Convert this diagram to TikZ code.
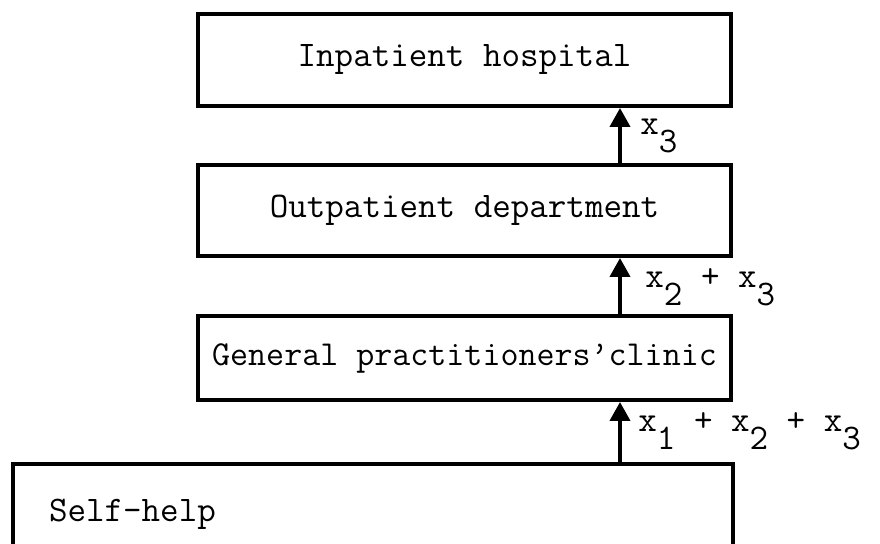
\documentclass[tikz,border=0pt]{standalone}
\usepackage{fontspec}
\usetikzlibrary{arrows.meta}
% digits set below the line, as in the flow labels
\newcommand{\lowsub}[1]{\raisebox{-9pt}{#1}}
\begin{document}
\begin{tikzpicture}[x=0.5pt,y=-0.5pt,
  level/.style={draw, line width=2pt, rectangle, inner sep=0pt,
    font=\fontsize{18}{20}\selectfont\ttfamily},
  flow/.style={line width=2pt, -{Triangle[width=10pt,length=9.5pt]}},
  lab/.style={anchor=base west, inner sep=0pt,
    font=\fontsize{18}{20}\selectfont\ttfamily}]
\clip (0,0) rectangle (880,544);

% levels of care, from the top down
\node[level, minimum width=266.5pt, minimum height=46pt] (inp) at (464.5,60) {Inpatient hospital};
\node[level, minimum width=266.5pt, minimum height=45.5pt] (outp) at (464.5,210.5) {Outpatient department};
\node[level, minimum width=266.5pt, minimum height=42pt,
  font=\fontsize{17.5}{20}\selectfont\ttfamily] (gp) at (464.5,358) {General practitioners’clinic};
\node[level, anchor=north west, minimum width=360pt, text width=324pt, align=left,
  inner xsep=18pt, inner ysep=0pt, text height=29pt, text depth=45pt] (self) at (11,462) {Self-help};

% referral flows
\coordinate (ax) at (620,0);
\draw[flow] (ax |- self.north) -- (ax |- gp.south);
\draw[flow] (ax |- gp.north) -- (ax |- outp.south);
\draw[flow] (ax |- outp.north) -- (ax |- inp.south);

\node[lab] (l3) at (640,135) {x\lowsub{3}};
\node[lab] (l23) at (645,288) {x\lowsub{2} + x\lowsub{3}};
\node[lab] (l123) at (638,432) {x\lowsub{1} + x\lowsub{2} + x\lowsub{3}};
\end{tikzpicture}
\end{document}
